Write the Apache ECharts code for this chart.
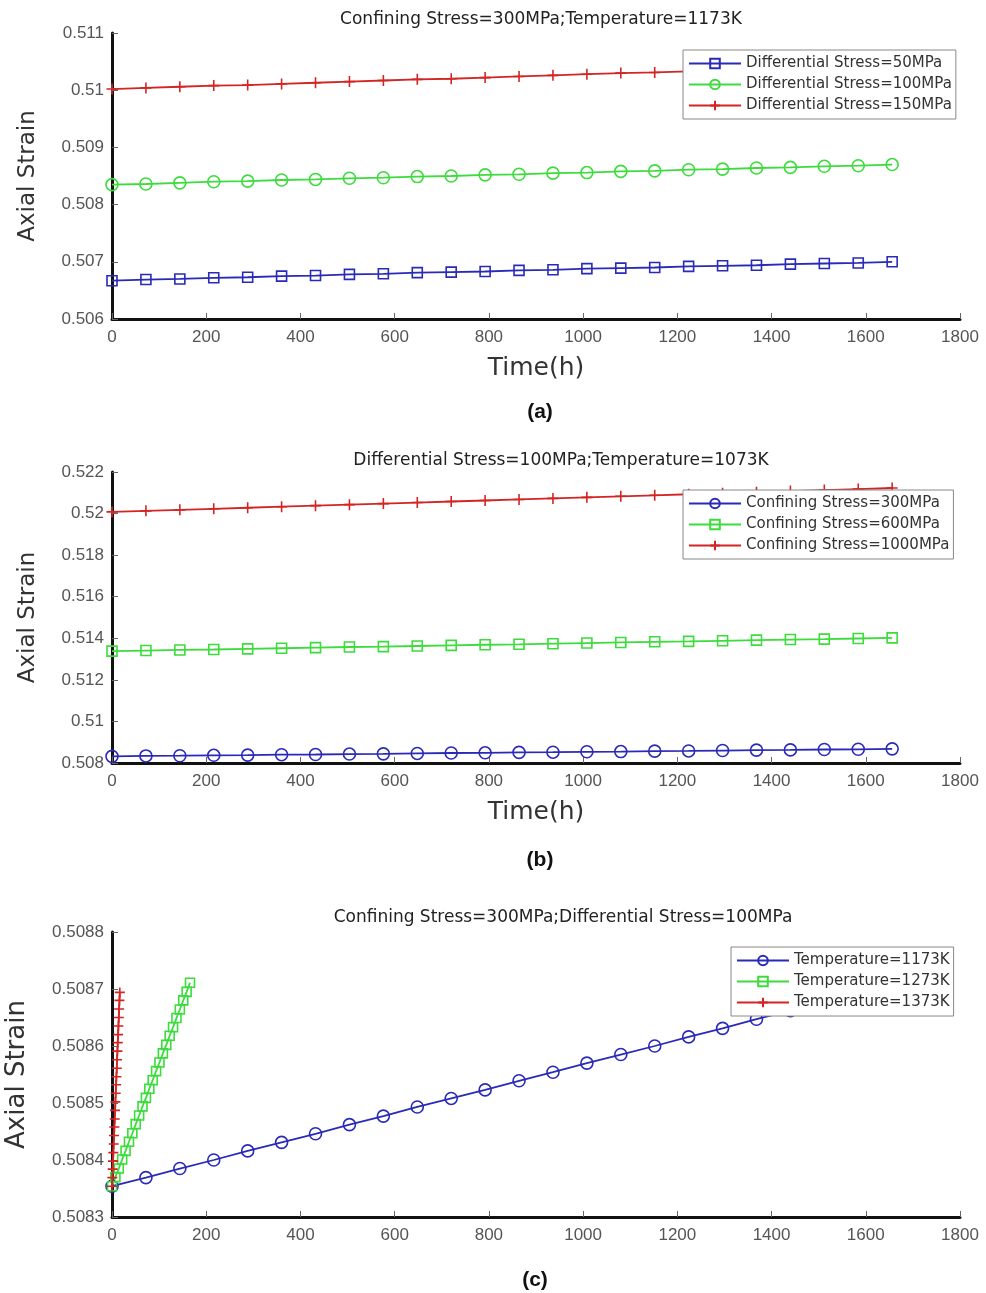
<!DOCTYPE html>
<html lang="en">
<head>
<meta charset="UTF-8">
<title>Axial Strain vs Time</title>
<script src="https://cdn.jsdelivr.net/npm/echarts@6/dist/echarts.min.js"></script>
<style>
  html, body { margin: 0; padding: 0; background: #fff; }
  #chart { width: 986px; height: 1293px; }
</style>
</head>
<body>
<div id="chart"></div>
<script type="text/javascript">
// time points (h)
var timeAB = [0, 72, 144, 216, 288, 360, 432, 504, 576, 648, 720, 792, 864, 936, 1008, 1080, 1152, 1224, 1296, 1368, 1440, 1512, 1584, 1656];
var time1273 = [0, 7.2, 14.4, 21.6, 28.8, 36, 43.2, 50.4, 57.6, 64.8, 72, 79.2, 86.4, 93.6, 100.8, 108, 115.2, 122.4, 129.6, 136.8, 144, 151.2, 158.4, 165.6];
var time1373 = [0, 0.72, 1.44, 2.16, 2.88, 3.6, 4.32, 5.04, 5.76, 6.48, 7.2, 7.92, 8.64, 9.36, 10.08, 10.8, 11.52, 12.24, 12.96, 13.68, 14.4, 15.12, 15.84, 16.56];

// (a) Confining Stress=300MPa; Temperature=1173K
var aDiff50 = [0.50667, 0.50669, 0.50670, 0.50672, 0.50673, 0.50675, 0.50676, 0.50678, 0.50679, 0.50681, 0.50682, 0.50683, 0.50685, 0.50686, 0.50688, 0.50689, 0.50690, 0.50692, 0.50693, 0.50694, 0.50696, 0.50697, 0.50698, 0.50700];
var aDiff100 = [0.50835, 0.50836, 0.50838, 0.50840, 0.50841, 0.50843, 0.50844, 0.50846, 0.50847, 0.50849, 0.50850, 0.50852, 0.50853, 0.50855, 0.50856, 0.50858, 0.50859, 0.50861, 0.50862, 0.50864, 0.50865, 0.50867, 0.50868, 0.50870];
var aDiff150 = [0.51002, 0.51004, 0.51006, 0.51008, 0.51009, 0.51011, 0.51013, 0.51015, 0.51017, 0.51019, 0.51020, 0.51022, 0.51024, 0.51026, 0.51028, 0.51030, 0.51031, 0.51033, 0.51035, 0.51037, 0.51039, 0.51040, 0.51042, 0.51044];

// (b) Differential Stress=100MPa; Temperature=1073K
var bConf300 = [0.50832, 0.50834, 0.50835, 0.50837, 0.50838, 0.50840, 0.50841, 0.50843, 0.50844, 0.50846, 0.50848, 0.50849, 0.50851, 0.50852, 0.50854, 0.50855, 0.50857, 0.50858, 0.50860, 0.50862, 0.50863, 0.50865, 0.50866, 0.50868];
var bConf600 = [0.51338, 0.51341, 0.51344, 0.51346, 0.51349, 0.51352, 0.51355, 0.51358, 0.51360, 0.51363, 0.51366, 0.51369, 0.51371, 0.51374, 0.51377, 0.51380, 0.51383, 0.51385, 0.51388, 0.51391, 0.51394, 0.51396, 0.51399, 0.51402];
var bConf1000 = [0.52008, 0.52013, 0.52018, 0.52023, 0.52028, 0.52033, 0.52038, 0.52043, 0.52048, 0.52053, 0.52058, 0.52063, 0.52068, 0.52073, 0.52078, 0.52083, 0.52088, 0.52093, 0.52098, 0.52103, 0.52108, 0.52113, 0.52118, 0.52123];

// (c) Confining Stress=300MPa; Differential Stress=100MPa
var cT1173 = [0.508354, 0.508369, 0.508385, 0.508400, 0.508416, 0.508431, 0.508446, 0.508462, 0.508477, 0.508493, 0.508508, 0.508523, 0.508539, 0.508554, 0.508570, 0.508585, 0.508600, 0.508616, 0.508631, 0.508647, 0.508662, 0.508677, 0.508693, 0.508708];
var cT1273 = [0.508354, 0.508370, 0.508385, 0.508401, 0.508416, 0.508432, 0.508447, 0.508463, 0.508478, 0.508494, 0.508509, 0.508525, 0.508540, 0.508556, 0.508571, 0.508587, 0.508602, 0.508618, 0.508633, 0.508649, 0.508664, 0.508680, 0.508695, 0.508711];
var cT1373 = [0.508354, 0.508369, 0.508384, 0.508398, 0.508413, 0.508428, 0.508443, 0.508458, 0.508472, 0.508487, 0.508502, 0.508517, 0.508532, 0.508546, 0.508561, 0.508576, 0.508591, 0.508606, 0.508620, 0.508635, 0.508650, 0.508665, 0.508680, 0.508694];

var BLUE = '#2a2ab8', GREEN = '#3cdc3c', RED = '#d42525';
var FONT = 'Liberation Sans, Arial, sans-serif';
var WIDE = 'DejaVu Sans, sans-serif';
var PLUS = 'path://M5,0L5,10M0,5L10,5';

function zip(xs, ys) {
  return xs.map(function (x, i) { return [x, ys[i]]; });
}

function mkSeries(name, idx, xs, ys, color, symbol, size) {
  return {
    name: name, type: 'line', xAxisIndex: idx, yAxisIndex: idx,
    data: zip(xs, ys),
    symbol: symbol, symbolSize: size, showAllSymbol: true,
    lineStyle: { color: color, width: 1.8 },
    itemStyle: { color: 'rgba(255,255,255,0)', borderColor: color, borderWidth: 1.6 },
    emphasis: { disabled: true },
    z: 2
  };
}

function xAx(idx, showName) {
  return {
    type: 'value', gridIndex: idx, min: 0, max: 1800, interval: 200,
    name: showName ? 'Time(h)' : '', nameLocation: 'middle', nameGap: 37,
    nameTextStyle: { fontSize: 25, color: '#333', fontFamily: WIDE },
    axisLine: { lineStyle: { color: '#111', width: 3 } },
    axisTick: { inside: true, length: 6, lineStyle: { color: '#666', width: 1 } },
    axisLabel: { fontSize: 17, color: '#555', margin: 10, fontFamily: FONT,
      formatter: function (v) { return String(v); } },
    splitLine: { show: false }
  };
}

function yAx(idx, min, max, step, gap, nameSize) {
  return {
    type: 'value', gridIndex: idx, min: min, max: max, interval: step,
    name: 'Axial Strain', nameLocation: 'middle', nameGap: gap,
    nameTextStyle: { fontSize: nameSize, color: '#333', fontFamily: WIDE },
    axisLine: { show: true, lineStyle: { color: '#111', width: 3 } },
    axisTick: { show: true, inside: true, length: 6, lineStyle: { color: '#666', width: 1 } },
    axisLabel: { fontSize: 17, color: '#555', margin: 8, fontFamily: FONT },
    splitLine: { show: false }
  };
}

function mkLegend(names, left, top) {
  return {
    data: names, orient: 'vertical', left: left, top: top,
    padding: [6, 4, 6, 5], itemGap: 6, itemWidth: 52, itemHeight: 12,
    backgroundColor: '#fff', borderColor: '#888', borderWidth: 1,
    textStyle: { fontSize: 15, color: '#333', fontFamily: WIDE },
    selectedMode: false
  };
}

var myChart = echarts.init(document.getElementById('chart'));

var option = {
  animation: false,
  backgroundColor: '#fff',
  title: [
    { text: 'Confining Stress=300MPa;Temperature=1173K', left: 536, top: 6, textAlign: 'center',
      textStyle: { fontSize: 17, fontWeight: 'normal', color: '#222', fontFamily: WIDE } },
    { text: 'Differential Stress=100MPa;Temperature=1073K', left: 556, top: 447, textAlign: 'center',
      textStyle: { fontSize: 17, fontWeight: 'normal', color: '#222', fontFamily: WIDE } },
    { text: 'Confining Stress=300MPa;Differential Stress=100MPa', left: 558, top: 904, textAlign: 'center',
      textStyle: { fontSize: 17, fontWeight: 'normal', color: '#222', fontFamily: WIDE } },
    { text: '(a)', left: 535, top: 397, textAlign: 'center',
      textStyle: { fontSize: 21, fontWeight: 'bold', color: '#111', fontFamily: FONT } },
    { text: '(b)', left: 535, top: 845, textAlign: 'center',
      textStyle: { fontSize: 21, fontWeight: 'bold', color: '#111', fontFamily: FONT } },
    { text: '(c)', left: 530, top: 1265, textAlign: 'center',
      textStyle: { fontSize: 21, fontWeight: 'bold', color: '#111', fontFamily: FONT } }
  ],
  legend: [
    mkLegend(['Differential Stress=50MPa', 'Differential Stress=100MPa', 'Differential Stress=150MPa'], 683, 50),
    mkLegend(['Confining Stress=300MPa', 'Confining Stress=600MPa', 'Confining Stress=1000MPa'], 683, 490),
    mkLegend(['Temperature=1173K', 'Temperature=1273K', 'Temperature=1373K'], 731, 947)
  ],
  grid: [
    { left: 112, right: 26, top: 33, height: 286, outerBoundsMode: 'none' },
    { left: 112, right: 26, top: 472, height: 291, outerBoundsMode: 'none' },
    { left: 112, right: 26, top: 932, height: 285, outerBoundsMode: 'none' }
  ],
  xAxis: [xAx(0, true), xAx(1, true), xAx(2, false)],
  yAxis: [
    yAx(0, 0.506, 0.511, 0.001, 72, 23),
    yAx(1, 0.508, 0.522, 0.002, 72, 23),
    yAx(2, 0.5083, 0.5088, 0.0001, 82, 26)
  ],
  series: [
    mkSeries('Differential Stress=50MPa', 0, timeAB, aDiff50, BLUE, 'rect', 10),
    mkSeries('Differential Stress=100MPa', 0, timeAB, aDiff100, GREEN, 'circle', 12),
    mkSeries('Differential Stress=150MPa', 0, timeAB, aDiff150, RED, PLUS, 11),
    mkSeries('Confining Stress=300MPa', 1, timeAB, bConf300, BLUE, 'circle', 12),
    mkSeries('Confining Stress=600MPa', 1, timeAB, bConf600, GREEN, 'rect', 10),
    mkSeries('Confining Stress=1000MPa', 1, timeAB, bConf1000, RED, PLUS, 11),
    mkSeries('Temperature=1173K', 2, timeAB, cT1173, BLUE, 'circle', 12),
    mkSeries('Temperature=1273K', 2, time1273, cT1273, GREEN, 'rect', 9),
    mkSeries('Temperature=1373K', 2, time1373, cT1373, RED, PLUS, 10)
  ]
};

myChart.setOption(option);
</script>
</body>
</html>
